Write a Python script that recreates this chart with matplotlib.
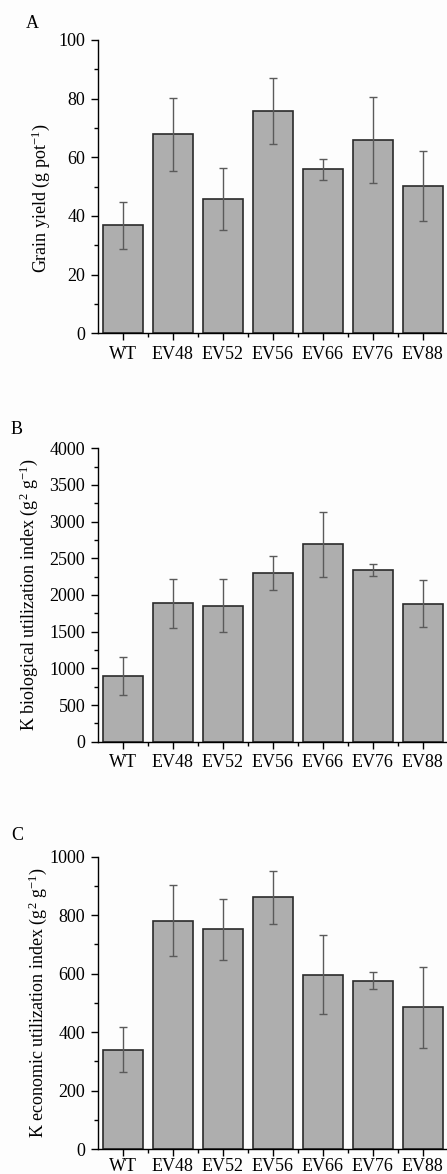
import matplotlib
matplotlib.use("Agg")
import matplotlib.pyplot as plt
import numpy as np
from matplotlib.ticker import MultipleLocator

plt.rcParams['font.family'] = ['Liberation Serif', 'DejaVu Serif']
plt.rcParams['mathtext.fontset'] = 'custom'
plt.rcParams['mathtext.rm'] = 'Liberation Serif'
plt.rcParams['mathtext.it'] = 'Liberation Serif:italic'

lines = ["WT", "EV48", "EV52", "EV56", "EV66", "EV76", "EV88"]

grain_yield = [36.9, 67.8, 45.7, 75.9, 55.9, 65.9, 50.2]
grain_yield_err = [8.0, 12.4, 10.6, 11.3, 3.5, 14.8, 12.0]

k_bio_index = [900, 1886, 1855, 2295, 2691, 2336, 1882]
k_bio_err = [257, 332, 360, 230, 440, 82, 316]

k_eco_index = [340, 781, 751, 861, 596, 576, 485]
k_eco_err = [78, 121, 105, 91, 135, 29, 139]

W, H = 447, 1174
fig = plt.figure(figsize=(W / 100, H / 100), dpi=100)
fig.patch.set_facecolor('#fdfdfd')

# (letter, values, errors, ylim top, major step, ylabel, axes top/bottom px, letter pos, label x/y, xpad)
panels = [
    ("A", grain_yield, grain_yield_err, 100, 20,
     r"Grain yield (g pot$^{\mathregular{-1}}$)", 40, 333.3, (32, 23), -0.13, 0.46, 4),
    ("B", k_bio_index, k_bio_err, 4000, 500,
     r"K biological utilization index (g$^{\mathregular{2}}$ g$^{\mathregular{-1}}$)", 448.3, 741.7, (17, 430), -0.165, 0.5, 4),
    ("C", k_eco_index, k_eco_err, 1000, 200,
     r"K economic utilization index (g$^{\mathregular{2}}$ g$^{\mathregular{-1}}$)", 856.7, 1149, (17, 836), -0.14, 0.5, 1.5),
]

x = np.arange(len(lines))
for letter, vals, errs, ytop, step, ylab, top, bot, lpos, labx, laby, xpad in panels:
    left, right = 97.7, 447.7
    ax = fig.add_axes([left / W, 1 - bot / H, (right - left) / W, (bot - top) / H])
    ax.set_facecolor('#fdfdfd')
    ax.bar(x, vals, width=0.8, color='#aeaeae', edgecolor='#2a2a2a', linewidth=1.2, zorder=2)
    ax.errorbar(x, vals, yerr=errs, fmt='none', ecolor='#5a5a5a', elinewidth=1,
                capsize=3, capthick=1, zorder=3)
    ax.set_xlim(-0.5, 6.5)
    ax.set_ylim(0, ytop)
    ax.set_xticks(x)
    ax.set_xticklabels(lines)
    ax.set_xticks(x[:-1] + 0.5, minor=True)
    ax.yaxis.set_major_locator(MultipleLocator(step))
    ax.yaxis.set_minor_locator(MultipleLocator(step / 2))
    ax.tick_params(which='major', direction='out', length=5, width=1, labelsize=13, pad=4)
    ax.tick_params(axis='x', which='major', pad=xpad)
    ax.tick_params(which='minor', direction='out', length=3, width=1)
    ax.spines['top'].set_visible(False)
    ax.spines['right'].set_visible(False)
    for s in ('left', 'bottom'):
        ax.spines[s].set_linewidth(1)
    ax.set_ylabel(ylab, fontsize=13)
    ax.yaxis.set_label_coords(labx, laby)
    fig.text(lpos[0] / W, 1 - lpos[1] / H, letter, fontsize=13, ha='center', va='center')

fig.savefig("out.png", dpi=100, facecolor=fig.get_facecolor())
